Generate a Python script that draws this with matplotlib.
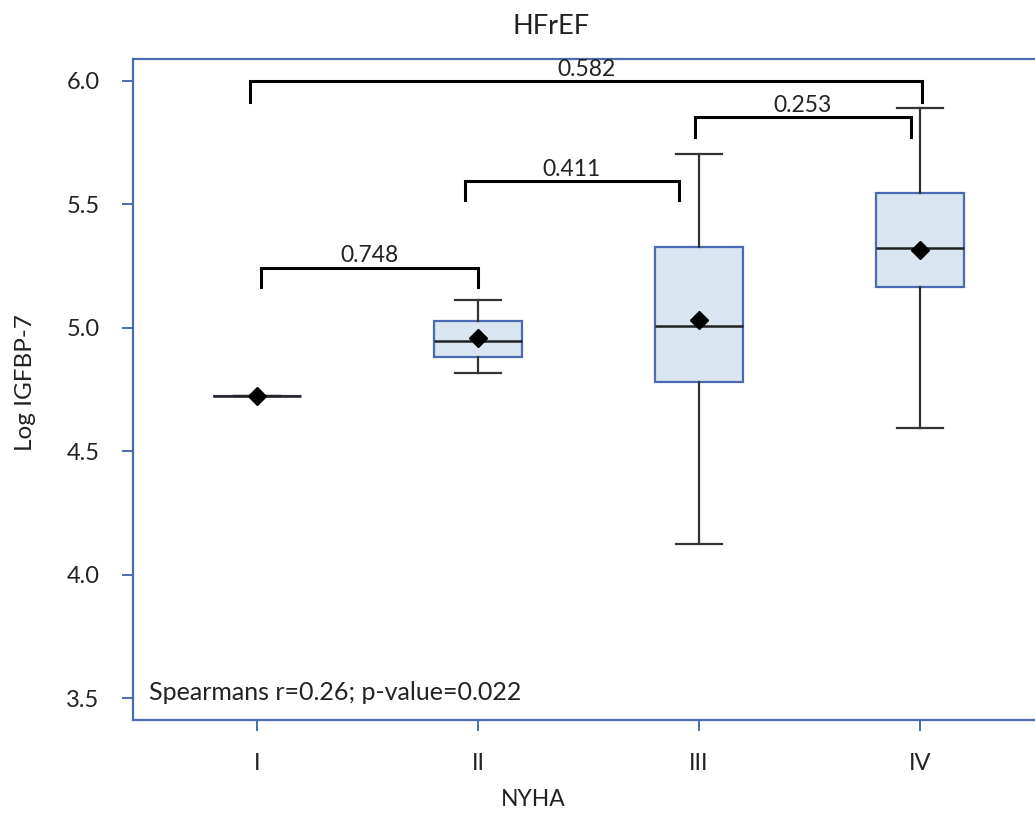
import matplotlib
matplotlib.use("Agg")
import matplotlib.pyplot as plt

plt.rcParams['font.family'] = ['Lato', 'DejaVu Sans']

# NYHA groups and box summary values
groups = ["I", "II", "III", "IV"]
medians = [4.725, 4.947, 5.008, 5.324]
means = [4.725, 4.960, 5.032, 5.316]
q1s = [4.725, 4.883, 4.781, 5.166]
q3s = [4.725, 5.028, 5.328, 5.547]
whis_lo = [4.725, 4.818, 4.125, 4.595]
whis_hi = [4.725, 5.113, 5.704, 5.891]

# pairwise p-value brackets
br_left = [1.02, 1.94, 2.98, 0.97]
br_right = [2.00, 2.91, 3.96, 4.01]
br_top = [5.243, 5.595, 5.854, 6.000]
br_leg = [5.166, 5.518, 5.773, 5.915]
br_labels = ["0.748", "0.411", "0.253", "0.582"]

yticks = [3.5, 4.0, 4.5, 5.0, 5.5, 6.0]

blue = "#4a6bb3"
fill = "#dae5f2"

W, H = 1035, 814
fig = plt.figure(figsize=(W / 100, H / 100), dpi=100)
ax = fig.add_axes([133 / W, 1 - 720 / H, (1035 - 133) / W, 661 / H])

stats = []
for i, g in enumerate(groups):
    stats.append(dict(label=g, med=medians[i], mean=means[i], q1=q1s[i], q3=q3s[i],
                      whislo=whis_lo[i], whishi=whis_hi[i], fliers=[]))

pos = list(range(1, len(groups) + 1))
ax.bxp(stats, positions=pos, widths=0.4, capwidths=0.21, showmeans=True,
       patch_artist=True, manage_ticks=False,
       boxprops=dict(facecolor=fill, edgecolor=blue, linewidth=1.6),
       whiskerprops=dict(color="#333333", linewidth=1.6),
       capprops=dict(color="#333333", linewidth=1.6),
       medianprops=dict(color="#222222", linewidth=1.8),
       meanprops=dict(marker="D", markerfacecolor="black", markeredgecolor="black",
                      markersize=9))

for xl, xr, yt, yl, lab in zip(br_left, br_right, br_top, br_leg, br_labels):
    ax.plot([xl, xl, xr, xr], [yl, yt, yt, yl], color="black", lw=2.2,
            solid_joinstyle="miter")
    ax.annotate(lab, xy=((xl + xr) / 2, yt), xytext=(0, 1),
                textcoords="offset points", ha="center", va="bottom",
                fontsize=16.5, color="#222222")

ax.text(0.018, 0.041, "Spearmans r=0.26; p-value=0.022", transform=ax.transAxes,
        ha="left", va="center", fontsize=18, color="#222222")

ax.set_xlim(0.439, (1035 - 257) / 221 + 1)
ax.set_ylim(3.411, 6.089)
ax.set_xticks(pos)
ax.set_xticklabels(groups)
ax.set_yticks(yticks)
ax.set_yticklabels([f"{v:.1f}" for v in yticks])

for side in ["left", "bottom", "top"]:
    ax.spines[side].set_color(blue)
    ax.spines[side].set_linewidth(1.6)
ax.spines["right"].set_visible(False)
ax.tick_params(axis="both", direction="out", length=8, width=1.4, color=blue,
               labelsize=17, labelcolor="#222222", pad=16)

fig.text(551 / W, 1 - 27 / H, "HFrEF", ha="center", va="center", fontsize=19.5,
         color="#222222")
fig.text(533 / W, 1 - 800 / H, "NYHA", ha="center", va="center", fontsize=16.5,
         color="#222222")
fig.text(25 / W, 1 - 383 / H, "Log IGFBP-7", ha="center", va="center",
         rotation=90, fontsize=17.5, color="#222222")

fig.savefig("out.png", dpi=100)
